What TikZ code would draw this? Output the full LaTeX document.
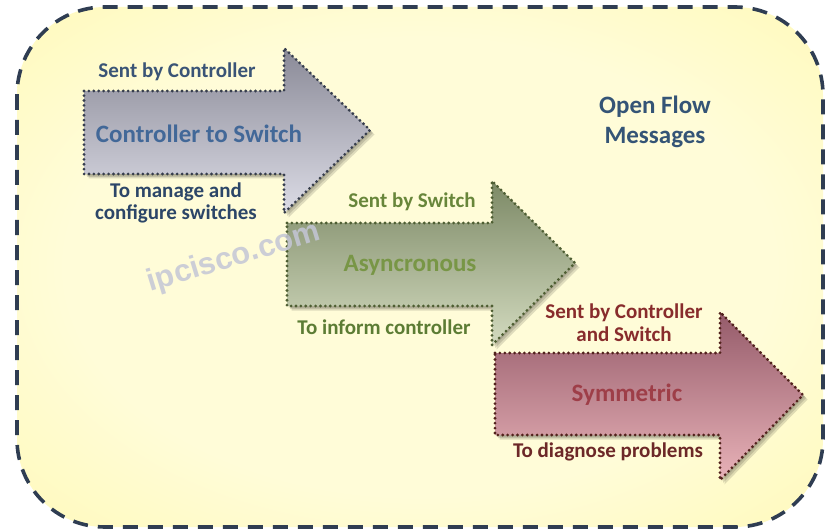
\documentclass[tikz,border=0pt]{standalone}
\usepackage{fontspec}
\setmainfont{Carlito}
\newfontfamily\wmfont{Liberation Sans}
\definecolor{frameedge}{HTML}{2F3D52}
\definecolor{yelin}{HTML}{FFFCD8}
\definecolor{yelout}{HTML}{FFF8A6}
% arrow palettes
\definecolor{grayA}{HTML}{8A8A97}
\definecolor{grayB}{HTML}{DCDCE6}
\definecolor{grayE}{HTML}{363D4C}
\definecolor{greenA}{HTML}{7C8966}
\definecolor{greenB}{HTML}{D3DBBF}
\definecolor{greenE}{HTML}{4E5E32}
\definecolor{redA}{HTML}{955B6A}
\definecolor{redB}{HTML}{E8B2B8}
\definecolor{redE}{HTML}{52221C}
\definecolor{wmark}{HTML}{C4C6D6}
\pgfdeclareradialshading{paleglow}{\pgfpoint{0bp}{0bp}}{%
  color(0bp)=(yelin); color(22bp)=(yelin); color(46bp)=(yelout); color(50bp)=(yelout)}
\tikzset{
  flowarrow/.style={line width=3.1pt, line cap=round, dash pattern=on 0pt off 4.9pt},
  arrowshadow/.style={fill=black, opacity=0.13},
  lbl/.style={font=\bfseries\fontsize{21}{22}\selectfont, align=center, inner sep=0pt},
  title/.style={font=\bfseries\fontsize{25}{30}\selectfont, align=center, inner sep=0pt},
}
\begin{document}
\begin{tikzpicture}[x=1pt,y=-1pt]
\useasboundingbox (0,0) rectangle (828,532);
% outer dashed frame with a pale yellow glow
\shade[shading=paleglow, rounded corners=88pt] (17,7) rectangle (823,527);
\draw[frameedge, line width=3.6pt, dash pattern=on 15pt off 10pt, rounded corners=88pt]
  (17,7) rectangle (823,527);
% arrow outlines, reused for shadow and body
\def\arrowone{(84,91) -- (284,91) -- (284,48) -- (370,130) -- (284,213) -- (284,174) -- (84,174) -- cycle}
\def\arrowtwo{(287,223) -- (492,223) -- (492,181) -- (575,263) -- (492,345) -- (492,306) -- (287,306) -- cycle}
\def\arrowthree{(495,353) -- (720,353) -- (720,312) -- (803,395) -- (720,480) -- (720,435) -- (495,435) -- cycle}
% soft shadows
\foreach \d in {1.5,3,4.5}{
  \fill[arrowshadow, shift={(\d pt,-\d pt)}] \arrowone;
  \fill[arrowshadow, shift={(\d pt,-\d pt)}] \arrowtwo;
  \fill[arrowshadow, shift={(\d pt,-\d pt)}] \arrowthree;
}
% controller-to-switch arrow
\path[flowarrow, draw=grayE, top color=grayA, bottom color=grayB] \arrowone;
\coordinate (a1) at (227,132);
% asynchronous arrow
\path[flowarrow, draw=greenE, top color=greenA, bottom color=greenB] \arrowtwo;
\coordinate (a2) at (431,264);
% symmetric arrow
\path[flowarrow, draw=redE, top color=redA, bottom color=redB] \arrowthree;
\coordinate (a3) at (649,395);
% watermark
\node[rotate=17, text=wmark, opacity=0.85, inner sep=0pt,
      font=\wmfont\bfseries\fontsize{31}{34}\selectfont] (wm) at (234,258) {ipcisco.com};
% labels
\node[lbl, text={rgb,255:red,58;green,84;blue,118}] (s1) at (177,72) {Sent by Controller};
\node[title, text={rgb,255:red,66;green,104;blue,152}] (m1) at (199,134) {Controller to Switch};
\node[lbl, text={rgb,255:red,44;green,70;blue,104}] (b1) at (176,203) {To manage and\\configure switches};
\node[title, text={rgb,255:red,52;green,84;blue,118}] (of) at (655,122) {Open Flow\\Messages};
\node[lbl, text={rgb,255:red,104;green,134;blue,58}] (s2) at (412,202) {Sent by Switch};
\node[title, text={rgb,255:red,120;green,150;blue,70}] (m2) at (410,265) {Asyncronous};
\node[lbl, text={rgb,255:red,92;green,124;blue,52}] (b2) at (384,327) {To inform controller};
\node[lbl, text={rgb,255:red,136;green,44;blue,44}, font=\bfseries\fontsize{21}{23}\selectfont] (s3) at (624,323) {Sent by Controller\\and Switch};
\node[title, text={rgb,255:red,158;green,62;blue,72}] (m3) at (627,395) {Symmetric};
\node[lbl, text={rgb,255:red,108;green,40;blue,40}] (b3) at (608,452) {To diagnose problems};
\end{tikzpicture}
\end{document}
